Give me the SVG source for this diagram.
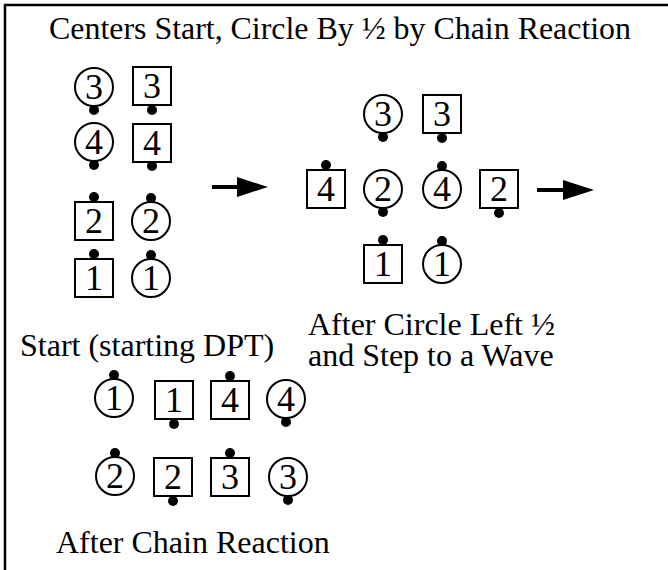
<svg xmlns="http://www.w3.org/2000/svg" width="668" height="570" viewBox="0 0 668 570">
<style>
  text{font-family:"Liberation Serif",Tinos,"Times New Roman",Times,serif;font-size:32px;fill:#000}
  .num{text-anchor:middle;font-size:36px}
  .shape{fill:#fff;stroke:#000;stroke-width:2}
  .dot{fill:#000}
  .arrow{stroke:#000;stroke-width:4;fill:none}
</style>
<defs>
  <marker id="head" viewBox="0 0 31 20" refX="3" refY="10" markerWidth="31" markerHeight="20" markerUnits="userSpaceOnUse" orient="auto">
    <path d="M0,0 L31,10 L0,20 Z" fill="#000"/>
  </marker>
</defs>
<rect width="668" height="570" fill="#fff"/>
<path d="M5,570 V5 H668" fill="none" stroke="#000" stroke-width="2.5"/>

<text x="49" y="39" textLength="582" lengthAdjust="spacingAndGlyphs">Centers Start, Circle By ½ by Chain Reaction</text>

<!-- starting formation -->
<g id="start-c3"><circle class="shape" cx="94" cy="87" r="19"/><text class="num" x="94" y="99">3</text><circle class="dot" cx="94" cy="110" r="5"/></g>
<g id="start-s3"><rect class="shape" x="133" y="67" width="38" height="38"/><text class="num" x="152" y="98">3</text><circle class="dot" cx="152" cy="110" r="5"/></g>
<g id="start-c4"><circle class="shape" cx="94" cy="142" r="19"/><text class="num" x="94" y="154">4</text><circle class="dot" cx="94" cy="165" r="5"/></g>
<g id="start-s4"><rect class="shape" x="133" y="124" width="38" height="38"/><text class="num" x="152" y="155">4</text><circle class="dot" cx="152" cy="166" r="5"/></g>
<g id="start-s2"><rect class="shape" x="75" y="202" width="38" height="38"/><text class="num" x="94" y="233">2</text><circle class="dot" cx="94" cy="197" r="5"/></g>
<g id="start-c2"><circle class="shape" cx="151" cy="221" r="19"/><text class="num" x="151" y="233">2</text><circle class="dot" cx="151" cy="198" r="5"/></g>
<g id="start-s1"><rect class="shape" x="75" y="259" width="38" height="38"/><text class="num" x="94" y="290">1</text><circle class="dot" cx="94" cy="254" r="5"/></g>
<g id="start-c1"><circle class="shape" cx="151" cy="278" r="19"/><text class="num" x="151" y="290">1</text><circle class="dot" cx="151" cy="255" r="5"/></g>
<text x="20" y="356">Start (starting DPT)</text>

<!-- after circle left half and step to a wave -->
<g id="wave-c3"><circle class="shape" cx="383" cy="114" r="19"/><text class="num" x="383" y="126">3</text><circle class="dot" cx="383" cy="137" r="5"/></g>
<g id="wave-s3"><rect class="shape" x="423" y="95" width="38" height="38"/><text class="num" x="442" y="126">3</text><circle class="dot" cx="442" cy="138" r="5"/></g>
<g id="wave-s4"><rect class="shape" x="307" y="170" width="38" height="38"/><text class="num" x="326" y="201">4</text><circle class="dot" cx="326" cy="165" r="5"/></g>
<g id="wave-c2"><circle class="shape" cx="383" cy="189" r="19"/><text class="num" x="383" y="201">2</text><circle class="dot" cx="383" cy="212" r="5"/></g>
<g id="wave-c4"><circle class="shape" cx="442" cy="189" r="19"/><text class="num" x="442" y="201">4</text><circle class="dot" cx="442" cy="166" r="5"/></g>
<g id="wave-s2"><rect class="shape" x="480" y="170" width="38" height="38"/><text class="num" x="499" y="201">2</text><circle class="dot" cx="499" cy="213" r="5"/></g>
<g id="wave-s1"><rect class="shape" x="364" y="245" width="38" height="38"/><text class="num" x="383" y="276">1</text><circle class="dot" cx="383" cy="240" r="5"/></g>
<g id="wave-c1"><circle class="shape" cx="442" cy="264" r="19"/><text class="num" x="442" y="276">1</text><circle class="dot" cx="442" cy="241" r="5"/></g>
<text x="308" y="335">After Circle Left ½</text>
<text x="308" y="366">and Step to a Wave</text>

<!-- after chain reaction -->
<g id="end-c1"><circle class="shape" cx="114" cy="398" r="19"/><text class="num" x="114" y="410">1</text><circle class="dot" cx="114" cy="375" r="5"/></g>
<g id="end-s1"><rect class="shape" x="155" y="381" width="38" height="38"/><text class="num" x="174" y="412">1</text><circle class="dot" cx="174" cy="424" r="5"/></g>
<g id="end-s4"><rect class="shape" x="211" y="381" width="38" height="38"/><text class="num" x="230" y="412">4</text><circle class="dot" cx="230" cy="376" r="5"/></g>
<g id="end-c4"><circle class="shape" cx="286" cy="399" r="19"/><text class="num" x="286" y="411">4</text><circle class="dot" cx="286" cy="422" r="5"/></g>
<g id="end-c2"><circle class="shape" cx="115" cy="476" r="19"/><text class="num" x="115" y="488">2</text><circle class="dot" cx="115" cy="453" r="5"/></g>
<g id="end-s2"><rect class="shape" x="154" y="458" width="38" height="38"/><text class="num" x="173" y="489">2</text><circle class="dot" cx="173" cy="501" r="5"/></g>
<g id="end-s3"><rect class="shape" x="211" y="458" width="38" height="38"/><text class="num" x="230" y="489">3</text><circle class="dot" cx="230" cy="453" r="5"/></g>
<g id="end-c3"><circle class="shape" cx="288" cy="477" r="19"/><text class="num" x="288" y="489">3</text><circle class="dot" cx="288" cy="500" r="5"/></g>
<text x="56" y="553">After Chain Reaction</text>

<g id="connectors">
  <path class="arrow" d="M212,187 H240" marker-end="url(#head)"/>
  <path class="arrow" d="M537,190 H566" marker-end="url(#head)"/>
</g>
</svg>
